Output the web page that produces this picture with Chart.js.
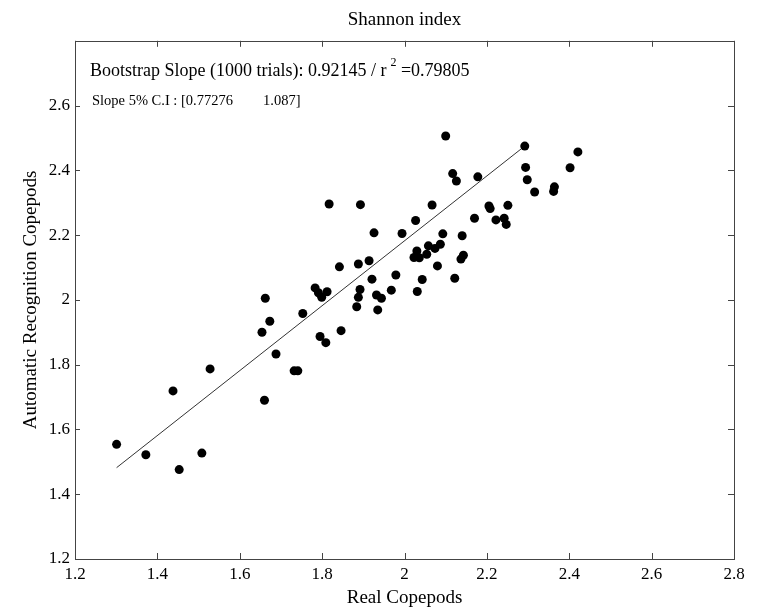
<!DOCTYPE html>
<html>
<head>
<meta charset="utf-8">
<script src="https://cdn.jsdelivr.net/npm/chart.js@4"></script>
<style>
  html, body { margin: 0; padding: 0; background: #fff; }
  canvas { display: block; }
</style>
</head>
<body>
<canvas id="shannonChart" width="758" height="609"></canvas>
<script>
// Shannon index: real vs automatic recognition (copepods)
const realCopepods = [
  1.301, 1.372, 1.438, 1.453, 1.508, 1.528, 1.654, 1.660, 1.662, 1.673,
  1.688, 1.732, 1.741, 1.753, 1.783, 1.791, 1.799, 1.812, 1.795, 1.809,
  1.817, 1.842, 1.846, 1.884, 1.888, 1.892, 1.888, 1.893, 1.914, 1.921,
  1.926, 1.932, 1.944, 1.935, 1.968, 1.979, 1.994, 2.027, 2.030, 2.023,
  2.036, 2.031, 2.043, 2.054, 2.058, 2.074, 2.087, 2.067, 2.080, 2.093,
  2.100, 2.117, 2.126, 2.122, 2.140, 2.143, 2.137, 2.170, 2.178, 2.205,
  2.208, 2.222, 2.242, 2.247, 2.251, 2.292, 2.294, 2.298, 2.316, 2.364,
  2.362, 2.402, 2.421
];
const autoCopepods = [
  1.554, 1.522, 1.719, 1.476, 1.527, 1.787, 1.900, 1.690, 2.005, 1.934,
  1.833, 1.781, 1.781, 1.958, 2.037, 2.022, 2.008, 2.025, 1.887, 1.868,
  2.296, 2.102, 1.905, 1.979, 2.008, 2.032, 2.111, 2.294, 2.121, 2.064,
  2.207, 2.015, 2.005, 1.969, 2.030, 2.077, 2.205, 2.245, 2.151, 2.131,
  2.130, 2.026, 2.063, 2.141, 2.167, 2.159, 2.172, 2.293, 2.105, 2.204,
  2.506, 2.390, 2.367, 2.067, 2.198, 2.138, 2.126, 2.252, 2.380, 2.290,
  2.282, 2.247, 2.252, 2.233, 2.292, 2.475, 2.409, 2.371, 2.333, 2.349,
  2.335, 2.408, 2.457
];
// fitted line end points
const fitX = [1.301, 2.292];
const fitY = [1.482, 2.475];

const axisMin = 1.2;
const axisMax = 2.8;
const tickStep = 0.2;

const annotLine1 = 'Bootstrap Slope (1000 trials): 0.92145 / r';
const annotSup = '2';
const annotLine1b = ' =0.79805';
const annotLine2a = 'Slope 5% C.I : [0.77276';
const annotLine2b = '1.087]';

const serif = '"Liberation Serif", "Times New Roman", serif';

const scatterPoints = realCopepods.map((x, i) => ({ x: x, y: autoCopepods[i] }));
const fitPoints = fitX.map((x, i) => ({ x: x, y: fitY[i] }));

function fmtTick(v) {
  return String(Math.round(v * 10) / 10);
}

// box around the axes + inward tick marks + text on the plot
const framePlugin = {
  id: 'frame',
  afterDraw(chart) {
    const ctx = chart.ctx;
    const a = chart.chartArea;
    const xs = chart.scales.x, ys = chart.scales.y;
    ctx.save();
    ctx.strokeStyle = '#444';
    ctx.lineWidth = 1;
    ctx.strokeRect(Math.round(a.left) + 0.5, Math.round(a.top) + 0.5,
      Math.round(a.right - a.left), Math.round(a.bottom - a.top));
    ctx.beginPath();
    xs.ticks.forEach(t => {
      const px = Math.round(xs.getPixelForValue(t.value)) + 0.5;
      ctx.moveTo(px, a.bottom); ctx.lineTo(px, a.bottom - 6);
      ctx.moveTo(px, a.top); ctx.lineTo(px, a.top + 6);
    });
    ys.ticks.forEach(t => {
      const py = Math.round(ys.getPixelForValue(t.value)) + 0.5;
      ctx.moveTo(a.left, py); ctx.lineTo(a.left + 5, py);
      ctx.moveTo(a.right, py); ctx.lineTo(a.right - 6, py);
    });
    ctx.stroke();

    ctx.fillStyle = '#000';
    ctx.textBaseline = 'alphabetic';
    ctx.font = '18px ' + serif;
    let tx = a.left + 15;
    ctx.fillText(annotLine1, tx, 76);
    tx += ctx.measureText(annotLine1).width + 4;
    ctx.font = '12px ' + serif;
    ctx.fillText(annotSup, tx, 66);
    tx += ctx.measureText(annotSup).width;
    ctx.font = '18px ' + serif;
    ctx.fillText(annotLine1b, tx, 76);

    ctx.font = '14.5px ' + serif;
    ctx.fillText(annotLine2a, a.left + 17, 105);
    ctx.fillText(annotLine2b, a.left + 188, 105);
    ctx.restore();
  }
};

const ctx = document.getElementById('shannonChart').getContext('2d');
const chart = new Chart(ctx, {
  type: 'scatter',
  data: {
    datasets: [
      {
        label: 'Copepods',
        data: scatterPoints,
        pointRadius: 4.5,
        pointBackgroundColor: '#000',
        pointBorderColor: '#000',
        pointBorderWidth: 0
      },
      {
        type: 'line',
        label: 'fit',
        data: fitPoints,
        borderColor: '#333',
        borderWidth: 1,
        pointRadius: 0,
        fill: false,
        tension: 0
      }
    ]
  },
  options: {
    responsive: false,
    animation: false,
    layout: {
      padding: { left: 0, right: 24, top: 0, bottom: 0 }
    },
    scales: {
      x: {
        type: 'linear',
        min: axisMin,
        max: axisMax,
        grid: { display: false, drawTicks: false },
        border: { display: false },
        ticks: {
          stepSize: tickStep,
          padding: 5,
          color: '#000',
          font: { family: serif, size: 17 },
          callback: fmtTick
        },
        title: {
          display: true,
          text: 'Real Copepods',
          color: '#000',
          font: { family: serif, size: 19 },
          padding: { top: 0, bottom: 0 }
        },
        afterFit(s) { s.height = 50; }
      },
      y: {
        type: 'linear',
        min: axisMin,
        max: axisMax,
        grid: { display: false, drawTicks: false },
        border: { display: false },
        ticks: {
          stepSize: tickStep,
          padding: 5,
          color: '#000',
          font: { family: serif, size: 17 },
          callback: fmtTick
        },
        afterBuildTicks(s) {
          s.ticks = s.ticks.filter(t => t.value < 2.7);
        },
        title: {
          display: true,
          text: 'Automatic Recognition Copepods',
          color: '#000',
          font: { family: serif, size: 19 },
          padding: { top: 20, bottom: 0 }
        },
        afterFit(s) { s.width = 75; }
      }
    },
    plugins: {
      legend: { display: false },
      tooltip: { enabled: false },
      title: {
        display: true,
        text: 'Shannon index',
        color: '#000',
        fullSize: false,
        font: { family: serif, size: 19, weight: 'normal' },
        padding: { top: 9, bottom: 9 }
      }
    }
  },
  plugins: [framePlugin]
});
</script>
</body>
</html>
